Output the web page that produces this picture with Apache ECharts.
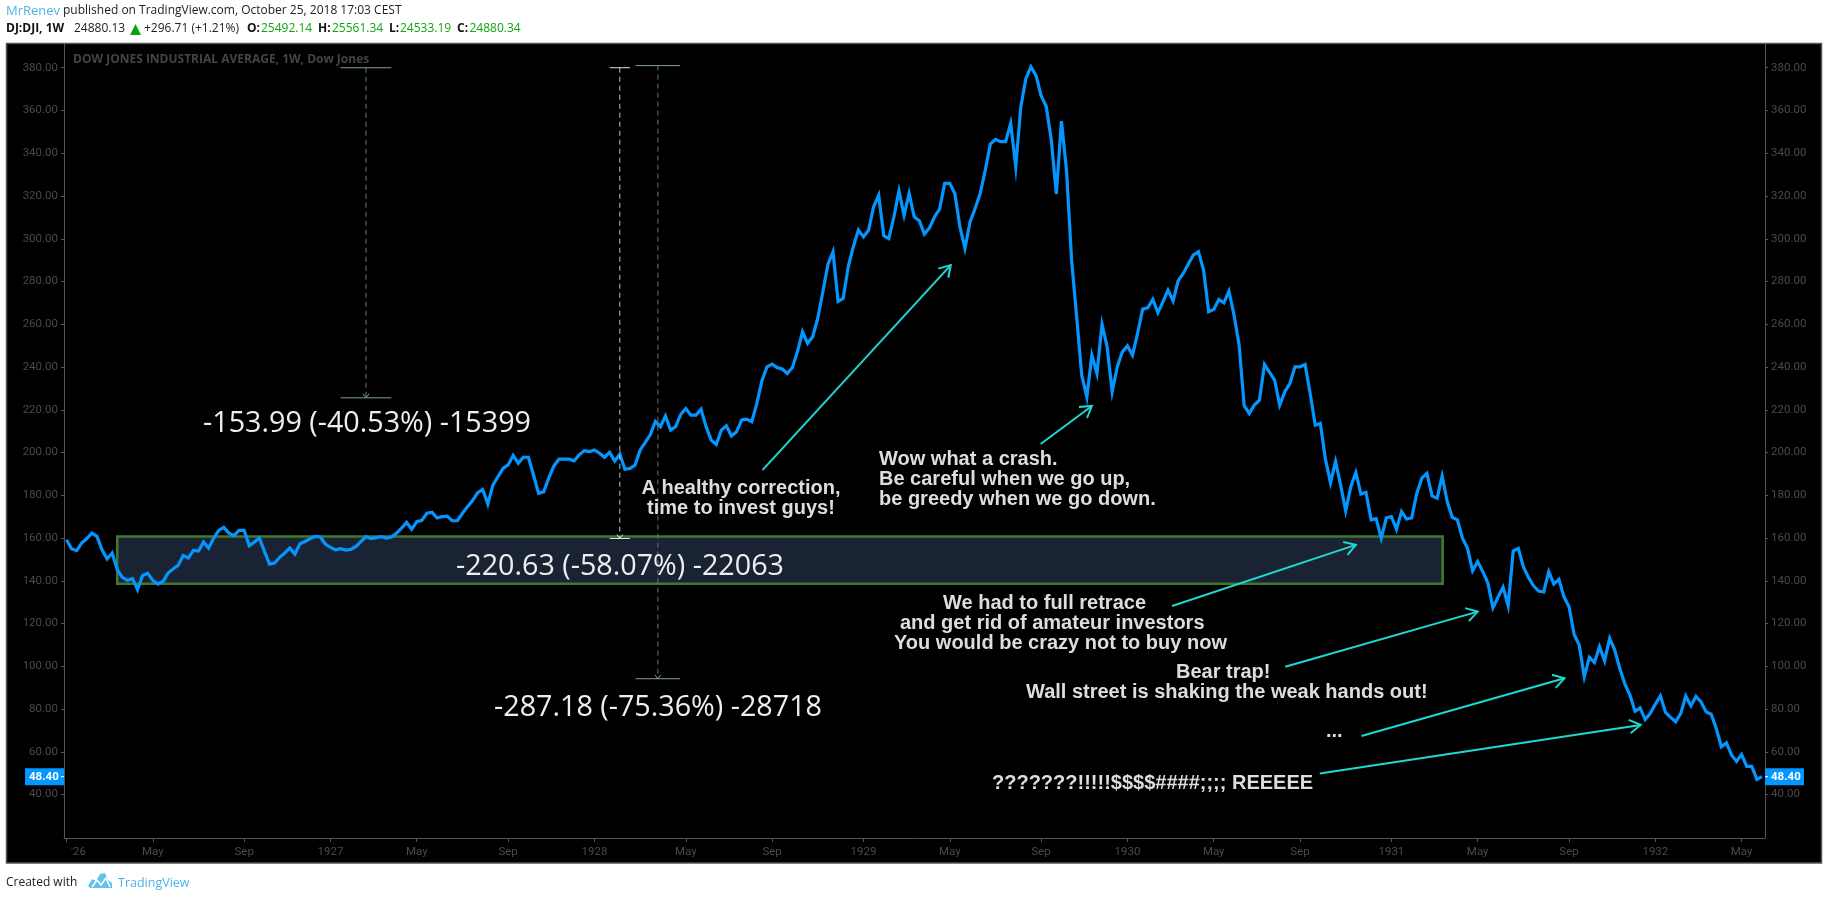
<!DOCTYPE html>
<html><head><meta charset="utf-8">
<style>html,body{margin:0;padding:0;background:#fff}#c{width:1828px;height:900px}</style>
<script src="https://cdn.jsdelivr.net/npm/echarts@6/dist/echarts.min.js"></script>
</head><body><div id="c"></div>
<script>
// Weekly closes
const closes1926 = [159.2,155.0,154.1,157.7,159.8,162.3,160.8,154.5,150.2,153.0,145.2,141.6,140.2,141.1,135.8,142.5,143.5,140.2,138.5,139.7,143.6,145.5,147.2,151.9,150.6,154.2,153.9,158.1,155.3,160,163.6,165,162.3,161.1,163.6,163.6,156.4,158.1,160,153.8,147.8,148.3,151,153,155.3,152.5,157.3,158.4,159.7,160.8,160.5,157.2];
const closes1927 = [155.6,154.5,155.0,154.4,154.7,156,158.3,160.7,159.7,160.2,160.7,160,160.5,162.2,164.6,167.4,164.1,167.7,168.3,171.6,172.1,169.4,170,170.2,168.1,168.1,171.6,174.7,177.5,181.2,182.7,175.9,184.8,188.7,192.6,194.2,198.7,195,197.8,197.8,189.5,180.9,181.6,188,193.7,196.9,196.9,196.9,196.1,198.9,200.9,200.4];
const closes1928 = [201.2,199.7,197.8,200.1,196,199.3,192.2,192.6,194.1,201.1,204.6,208.3,214.6,212.1,217.1,210.5,212.1,217.8,220.6,217.5,217.5,220.2,212.1,205.8,203.8,210.5,212.5,207.7,209.7,215.2,215.6,214.4,223,233.6,240.1,241.4,239.7,239.1,237,239.8,247.2,256.5,251.1,254.2,262.8,275.2,288,293.9,270.7,272.1,286.9,296.3,304.1];
const closes1929 = [300.9,304,315,320.4,301.4,300.1,310.3,322.4,311,321.2,310.3,308.4,302.2,305.1,310.3,313.9,325.9,325.9,321.2,305.6,295.5,307.9,314.2,321.2,332.1,344.3,346.5,345.4,345.4,354,333.7,361.8,375,380.4,376.3,366.9,362,346.2,321,355,332.1,290,263.5,236.2,226,245.5,237,260,249.5,228.4,240.1,247.1];
const closes1930 = [249.9,245.6,255.7,267.1,267.7,271.6,265.4,270.5,276,270.9,280.4,283.8,288.2,292.4,293.9,285.4,265.9,266.9,271.6,270,275.5,264.3,250.3,221.9,218.3,222.2,224.5,241.2,237.5,233.9,222.2,228.4,232.3,240.1,240.1,241.2,227.6,212.8,213.6,197,185.9,195.8,184.8,172.7,184,190.6,180.6,181.4,168.5,169.1,159.9,169.5];
const closes1931 = [170,164.1,172.4,168.9,169.4,180.9,188,190.3,179.7,178.6,189,177,169.7,168.5,159.9,155.2,144.7,149,144.3,139.1,127.4,132.3,137,128.4,153.9,155.2,146.6,141.6,137.7,135.2,134.8,144.3,138.5,140.7,132.5,127.9,114.9,109.9,95.1,104.2,101.8,109.2,102.6,113.1,107.6,99,91.7,86.5,79,80.6,75.1,78];
const closes1932 = [82.3,86.2,78.4,76.1,74.1,78,86.1,81.5,85.9,83.4,78.7,77.6,70.9,62.4,64.2,58.5,55.5,58.8,53.2,53.2,47.1,48.4];
const weeklyCloses = [].concat(closes1926,closes1927,closes1928,closes1929,closes1930,closes1931,closes1932);
const lastPrice = 48.4;

const priceTicks = [40,60,80,100,120,140,160,180,200,220,240,260,280,300,320,340,360,380];
const weekTicks  = [0,17,35,52,69,87,104,122,139,157,174,192,209,226,243,261,278,296,313,330];
const weekLabels = ["'26","May","Sep","1927","May","Sep","1928","May","Sep","1929","May","Sep","1930","May","Sep","1931","May","Sep","1932","May"];

// Drawn annotations, in [week, price] terms
const zoneBox = [[10.0,160.7,271.1,138.65]];
const measures = [[59,380,225.6,5],[109,380,159.8,2],[116.5,381,94.2,4.4]];
const arrows = [
  [137.1,191.8,174.2,287.7],
  [191.9,204,202.0,221.8],
  [217.8,128.2,254.0,156.8],
  [240.1,99.8,278.0,125.6],
  [255.1,67.4,295.1,94.4],
  [246.9,49.9,310.1,72.6]
];

const AX='#555', LBL='#4a4a4a', BLUE='#0496ff', CY='#1fd8d0', LINK='#4db4e6';
const uiFont='"Open Sans"', noteFont='"Liberation Sans"';

function txt(x,y,t,fill,font,align){
  return {type:'text',x,y,z:50,silent:true,style:{text:t,fill,font,textAlign:align||'left',textVerticalAlign:'middle'}};
}
const H='12px '+uiFont, HB='bold 12px '+uiFont, GREEN='#12a512';
const NOTE='bold 20px '+noteFont, NC='#dddddd', M='28.7px '+uiFont, MC='#eeeeee';
const gfx=[
 {type:'rect',z:-10,silent:true,shape:{x:6.5,y:43.5,width:1815,height:819.5},style:{fill:'#000',stroke:'#555',lineWidth:1.5}},
 txt(6,11,'MrRenev',LINK,'13px '+uiFont),
 txt(63,11,'published on TradingView.com, October 25, 2018 17:03 CEST','#222',H),
 txt(6,29,'DJ:DJI, 1W','#111',HB),
 txt(74,29,'24880.13','#222',H),
 {type:'polygon',z:50,silent:true,shape:{points:[[135.5,24],[141,35],[130,35]]},style:{fill:'#0ca30c'}},
 txt(144,29,'+296.71 (+1.21%)','#222',H),
 txt(247,29,'O:','#111',HB), txt(261,29,'25492.14',GREEN,H),
 txt(318,29,'H:','#111',HB), txt(332,29,'25561.34',GREEN,H),
 txt(389,29,'L:','#111',HB), txt(400,29,'24533.19',GREEN,H),
 txt(457,29,'C:','#111',HB), txt(469.5,29,'24880.34',GREEN,H),
 txt(73,60,'DOW JONES INDUSTRIAL AVERAGE, 1W, Dow Jones','#444',HB),
 txt(6,883,'Created with','#222','12px '+uiFont),
 txt(118,883,'TradingView',LINK,'12.5px '+uiFont),
 {type:'polygon',z:50,silent:true,shape:{points:[[88,886],[92,879],[96,881],[100,874],[105,873],[108,880],[112,883],[112,888],[90,888]]},style:{fill:'#62c3ea'}},
 {type:'polyline',z:51,silent:true,shape:{points:[[92,887],[97,880],[101,885],[106,878],[110,887]]},style:{stroke:'#fff',lineWidth:1.5,fill:null}},
 // measure read-outs
 txt(203,424,'-153.99 (-40.53%) -15399',MC,M),
 txt(456,567,'-220.63 (-58.07%) -22063',MC,M),
 txt(494,708,'-287.18 (-75.36%) -28718',MC,M),
 // notes
 txt(741,488,'A healthy correction,',NC,NOTE,'center'),
 txt(741,508.5,'time to invest guys!',NC,NOTE,'center'),
 txt(879,459,'Wow what a crash.',NC,NOTE),
 txt(879,479,'Be careful when we go up,',NC,NOTE),
 txt(879,499.5,'be greedy when we go down.',NC,NOTE),
 txt(943,603,'We had to full retrace',NC,NOTE),
 txt(900,623,'and get rid of amateur investors',NC,NOTE),
 txt(894,643,'You would be crazy not to buy now',NC,NOTE),
 txt(1176,672,'Bear trap!',NC,NOTE),
 txt(1026,692,'Wall street is shaking the weak hands out!',NC,NOTE),
 txt(1326,731,'...',NC,NOTE),
 txt(992,783,'???????!!!!!$$$$####;;;; REEEEE',NC,NOTE)
];

const option={
 animation:false,backgroundColor:'#fff',
 textStyle:{fontFamily:'Roboto'},
 graphic:gfx,
 grid:{left:64,right:63,top:44,height:794,containLabel:false},
 xAxis:{type:'value',min:-0.49,max:334.6,splitLine:{show:false},
  axisLine:{show:true,onZero:false,lineStyle:{color:AX,width:1}},
  axisTick:{show:true,length:4,lineStyle:{color:AX},customValues:weekTicks},
  axisLabel:{color:LBL,fontSize:11.5,fontFamily:'Roboto',margin:8,customValues:weekTicks,hideOverlap:false,showMinLabel:true,showMaxLabel:true,
   rich:{first:{color:LBL,fontSize:11.5,padding:[0,0,0,24]}},
   formatter:function(v){var i=weekTicks.indexOf(v);var s=weekLabels[i]||'';return i===0?'{first|'+s+'}':s;}}},
 yAxis:[0,1].map(function(k){return {type:'value',position:k?'right':'left',min:19.7,max:391.1,scale:false,splitLine:{show:false},
  axisLine:{show:true,onZero:false,lineStyle:{color:AX,width:1}},
  axisTick:{show:true,length:3,lineStyle:{color:AX},customValues:priceTicks},
  axisLabel:{color:LBL,fontSize:11.5,fontFamily:'Roboto',margin:6,customValues:priceTicks,formatter:function(v){return v.toFixed(2);}}};}),
 series:[
  {type:'custom',z:1,silent:true,clip:false,coordinateSystem:'cartesian2d',encode:{x:[0,2],y:[1,3]},data:zoneBox,
   renderItem:function(p,api){
    var a=api.coord([api.value(0),api.value(1)]),b=api.coord([api.value(2),api.value(3)]);
    return {type:'rect',shape:{x:a[0],y:a[1],width:b[0]-a[0],height:b[1]-a[1]},style:{fill:'#1a2333',stroke:'#3f7a2c',lineWidth:2.5}};
   }},
  {type:'line',z:3,silent:true,showSymbol:false,symbol:'none',smooth:false,clip:false,
   data:weeklyCloses.map(function(v,i){return [i,v];}),lineStyle:{color:BLUE,width:3.2,join:'miter'}},
  {type:'custom',z:4,silent:true,clip:false,encode:{x:0,y:[1,2]},data:measures,
   renderItem:function(p,api){
    var x=api.value(0),t=api.coord([x,api.value(1)]),b=api.coord([x,api.value(2)]),w=api.value(3)*5.076;
    var bright=p.dataIndex===1?'#d5e6e6':'#7f9ea3', dash=p.dataIndex===1?'#b5c6c6':'#5d7b80';
    var ln=function(x1,y1,x2,y2,c,d){return {type:'line',shape:{x1:x1,y1:y1,x2:x2,y2:y2},style:{stroke:c,lineWidth:1,lineDash:d||null}};};
    return {type:'group',children:[
     ln(t[0],t[1],t[0],b[1],dash,[5,4]),
     ln(t[0]-w,t[1],t[0]+w,t[1],bright),
     ln(t[0]-w,b[1],t[0]+w,b[1],bright),
     ln(t[0]-3,b[1]-4,t[0],b[1],bright),
     ln(t[0]+3,b[1]-4,t[0],b[1],bright)
    ]};
   }},
  {type:'custom',z:5,silent:true,clip:false,encode:{x:[0,2],y:[1,3]},data:arrows,
   renderItem:function(p,api){
    var a=api.coord([api.value(0),api.value(1)]),b=api.coord([api.value(2),api.value(3)]);
    var ang=Math.atan2(b[1]-a[1],b[0]-a[0]),L=13,S=0.55;
    var h1=[b[0]-L*Math.cos(ang-S),b[1]-L*Math.sin(ang-S)],h2=[b[0]-L*Math.cos(ang+S),b[1]-L*Math.sin(ang+S)];
    var st={stroke:CY,lineWidth:2,fill:null};
    return {type:'group',children:[
     {type:'line',shape:{x1:a[0],y1:a[1],x2:b[0],y2:b[1]},style:st},
     {type:'polyline',shape:{points:[h1,b,h2]},style:st}
    ]};
   }},
  {type:'custom',z:6,silent:true,clip:false,encode:{y:0},data:[[lastPrice]],
   renderItem:function(p,api){
    var y=api.coord([0,api.value(0)])[1],g=p.coordSys,L=g.x,R=g.x+g.width;
    var tag=function(x,w,tx,x1,x2){return [
      {type:'rect',shape:{x:x,y:y-8.5,width:w,height:17},style:{fill:BLUE}},
      {type:'text',style:{x:tx,y:y,text:lastPrice.toFixed(2),fill:'#fff',font:'bold 11.5px Roboto',textAlign:'left',textVerticalAlign:'middle'}},
      {type:'line',shape:{x1:x1,y1:y,x2:x2,y2:y},style:{stroke:'#fff',lineWidth:1}}
    ];};
    return {type:'group',children:tag(L-39,39,L-35,L-3,L).concat(tag(R,39,R+6,R,R+3))};
   }}
 ]
};
option.series.forEach(function(s){s.yAxisIndex=0;s.xAxisIndex=0;});
echarts.init(document.getElementById('c'),null,{renderer:'canvas'}).setOption(option);
</script></body></html>
